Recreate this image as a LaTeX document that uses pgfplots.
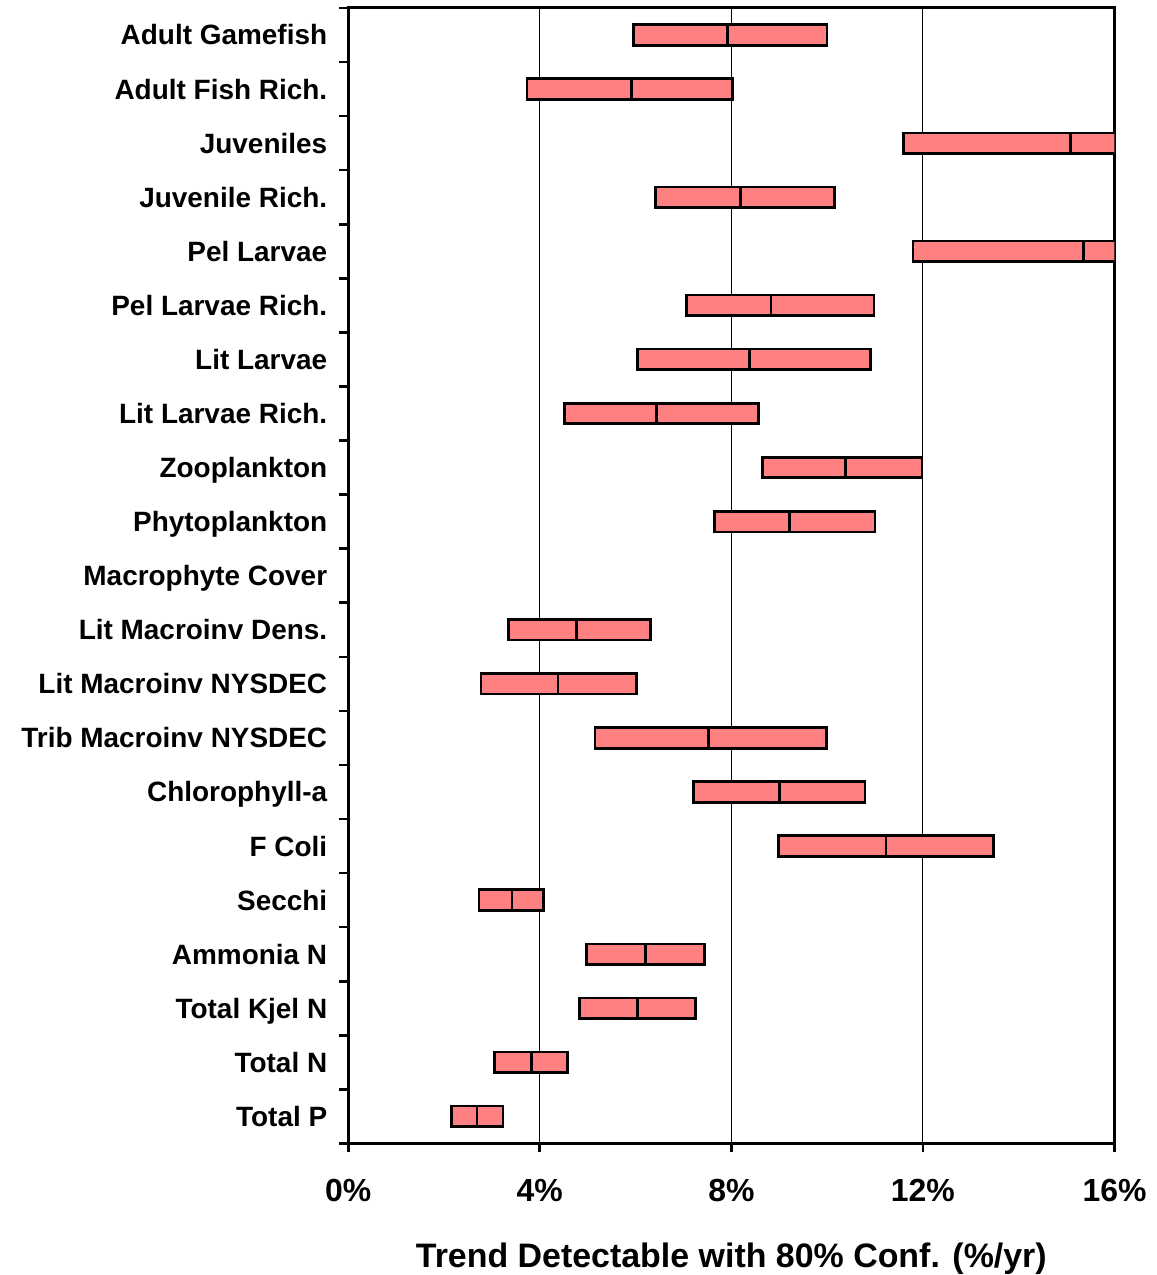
\documentclass[border=0pt]{standalone}
\usepackage{pgfplots}
\usepackage{pgfplotstable}
\pgfplotsset{compat=1.18}
\usepackage{fontspec}
\setmainfont{Liberation Sans}
\definecolor{barfill}{HTML}{FF8080}

% low / point / high estimate of the detectable trend, %/yr
\pgfplotstableread{
idx lo mid hi
0 5.96 7.92 10.00
1 3.73 5.92 8.02
2 11.60 15.08 18.50
3 6.42 8.19 10.15
4 11.79 15.35 18.90
5 7.06 8.83 10.98
6 6.04 8.38 10.90
7 4.52 6.44 8.56
8 8.65 10.38 11.98
9 7.65 9.21 11.00
11 3.35 4.77 6.31
12 2.77 4.38 6.02
13 5.15 7.52 9.98
14 7.21 9.00 10.79
15 8.98 11.23 13.48
16 2.73 3.42 4.08
17 4.98 6.21 7.44
18 4.83 6.04 7.25
19 3.06 3.83 4.58
20 2.15 2.69 3.23
}\ranges

\begin{document}
\begin{tikzpicture}
\begin{axis}[
    scale only axis,
    width=384pt, height=569pt,
    xbar stacked, bar width=10.3pt,
    xmin=0, xmax=16,
    ymin=-0.5, ymax=20.5, y dir=reverse,
    axis line style={line width=1.5pt},
    tick align=outside, tick pos=left,
    major tick length=4.5pt,
    tick style={line width=1.3pt, black},
    xtick={0,4,8,12,16},
    xticklabels={0\%,4\%,8\%,12\%,16\%},
    xticklabel style={font=\fontsize{16}{18}\selectfont\bfseries, yshift=-10pt},
    xmajorgrids, grid style={line width=0.5pt, black},
    ytick={-0.5,0.5,...,19.5},
    yticklabels={Adult Gamefish, Adult Fish Rich., Juveniles, Juvenile Rich.,
      Pel Larvae, Pel Larvae Rich., Lit Larvae, Lit Larvae Rich., Zooplankton,
      Phytoplankton, Macrophyte Cover, Lit Macroinv Dens., Lit Macroinv NYSDEC,
      Trib Macroinv NYSDEC, Chlorophyll-a, F Coli, Secchi, Ammonia N,
      Total Kjel N, Total N, Total P},
    yticklabel style={font=\fontsize{14}{16}\selectfont\bfseries,
      text height=10pt, text depth=0pt,
      yshift=-13.55pt, xshift=-2.5pt},
    extra y ticks={20.5}, extra y tick labels={},
    xlabel={Trend Detectable with 80\% Conf. (\%/yr)},
    xlabel style={font=\fontsize{17}{20}\selectfont\bfseries,
      inner sep=0pt, yshift=-17.2pt},
]
\addplot[draw=none, fill=none] table[x=lo, y=idx]{\ranges};
\addplot[fill=barfill, draw=black, line width=1.35pt]
  table[x expr=\thisrow{mid}-\thisrow{lo}, y=idx]{\ranges};
\addplot[fill=barfill, draw=black, line width=1.35pt]
  table[x expr=\thisrow{hi}-\thisrow{mid}, y=idx]{\ranges};
\end{axis}
\path ([xshift=-174.5pt, yshift=4pt]current axis.north west)
  rectangle ([xshift=21pt, yshift=-64.5pt]current axis.south east);
\end{tikzpicture}
\end{document}
